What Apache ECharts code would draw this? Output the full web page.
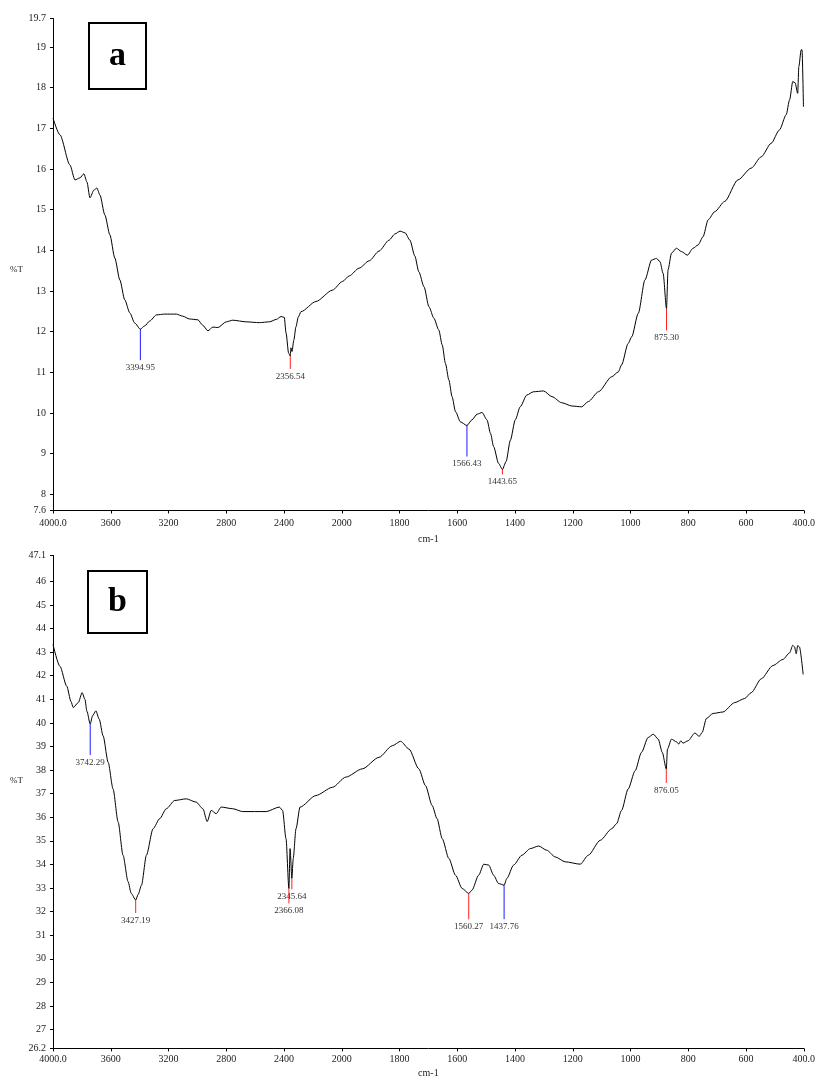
<!DOCTYPE html>
<html>
<head>
<meta charset="utf-8">
<script src="https://cdn.jsdelivr.net/npm/echarts@6/dist/echarts.min.js"></script>
<style>
  html, body { margin: 0; padding: 0; background: #fff; }
  #chart { width: 818px; height: 1081px; }
</style>
</head>
<body>
<div id="chart"></div>
<script>
// Wavenumber scale (cm-1): 400 cm-1 per division down to 2000, then 200 cm-1 per division
const xTicks = [4000, 3600, 3200, 2800, 2400, 2000, 1800, 1600, 1400, 1200, 1000, 800, 600, 400];
const xTickLabels = ['4000.0', '3600', '3200', '2800', '2400', '2000', '1800', '1600', '1400', '1200', '1000', '800', '600', '400.0'];

const yTicksA = [7.6, 8, 9, 10, 11, 12, 13, 14, 15, 16, 17, 18, 19, 19.7];
const yTicksB = [26.2, 27, 28, 29, 30, 31, 32, 33, 34, 35, 36, 37, 38, 39, 40, 41, 42, 43, 44, 45, 46, 47.1];

// Spectrum a: wavenumber (cm-1) and transmittance (%T)
const waveA = [4000, 3952, 3883, 3848, 3814, 3786, 3765, 3744, 3717, 3696, 3675, 3641, 3606, 3572, 3537, 3503, 3468, 3434,
  3394.95, 3365, 3330, 3284, 3227, 3146, 3102, 3054, 2996, 2964, 2927, 2893, 2858, 2800, 2755, 2662, 2570, 2501, 2453, 2421,
  2398, 2386, 2368, 2356.54, 2352, 2345, 2332, 2317, 2301, 2282, 2179, 2064, 1998, 1974, 1940, 1905, 1871, 1836, 1816, 1798,
  1781, 1764, 1747, 1733, 1715, 1698, 1681, 1664, 1652, 1641, 1629, 1618, 1606, 1589, 1566.43, 1549, 1531, 1514, 1497, 1485,
  1474, 1457, 1443.65, 1431, 1416, 1399, 1382, 1359, 1336, 1301, 1272, 1238, 1203, 1169, 1146, 1111, 1065, 1042, 1031, 1008,
  996, 973, 950, 927, 910, 898, 887, 875.30, 870, 858, 841, 824, 803, 783, 766, 749, 731, 708, 674, 628, 582, 547, 513, 484,
  461, 449, 438, 430, 421, 417, 409, 406, 401];
const transA = [17.25, 16.84, 16.10, 15.73, 15.78, 15.88, 15.68, 15.29, 15.48, 15.53, 15.36, 14.87, 14.38, 13.81, 13.27, 12.78, 12.46, 12.21,
  12.06, 12.14, 12.26, 12.41, 12.43, 12.43, 12.38, 12.31, 12.29, 12.16, 12.02, 12.11, 12.10, 12.24, 12.28, 12.24, 12.22, 12.24, 12.30, 12.37,
  12.35, 11.97, 11.47, 11.40, 11.60, 11.51, 11.79, 12.12, 12.36, 12.49, 12.74, 13.02, 13.23, 13.37, 13.56, 13.74, 13.98, 14.25, 14.40, 14.47,
  14.43, 14.25, 13.86, 13.47, 13.10, 12.61, 12.33, 12.04, 11.67, 11.22, 10.81, 10.40, 10.03, 9.78, 9.69, 9.83, 9.97, 10.01, 9.83, 9.50,
  9.17, 8.76, 8.61, 8.80, 9.33, 9.83, 10.15, 10.44, 10.52, 10.54, 10.40, 10.25, 10.17, 10.15, 10.28, 10.52, 10.89, 11.01, 11.18, 11.71,
  11.87, 12.45, 13.27, 13.76, 13.80, 13.72, 13.43, 12.57, 13.52, 13.93, 14.05, 13.97, 13.88, 14.05, 14.13, 14.33, 14.75, 14.95, 15.20, 15.73, 16.02, 16.30, 16.63, 16.96,
  17.33, 17.70, 18.15, 18.12, 17.86, 18.52, 18.93, 18.93, 17.53];

// Spectrum b: wavenumber (cm-1) and transmittance (%T)
const waveB = [4000, 3952, 3905, 3875, 3860, 3825, 3798, 3779, 3765, 3742.29, 3726, 3703, 3680, 3653, 3618, 3584, 3549, 3515,
  3480, 3458, 3427.19, 3410, 3387, 3353, 3307, 3261, 3215, 3157, 3077, 3008, 2962, 2932, 2904, 2870, 2835, 2755, 2686, 2524,
  2432, 2410, 2386, 2366.08, 2358, 2345.64, 2336, 2317, 2289, 2179, 2064, 1986, 1929, 1871, 1825, 1796, 1767, 1733, 1710,
  1687, 1670, 1652, 1629, 1606, 1583, 1560.27, 1549, 1526, 1508, 1491, 1474, 1457, 1437.76, 1428, 1405, 1376, 1347, 1318,
  1290, 1261, 1226, 1174, 1146, 1105, 1065, 1048, 1031, 1008, 984, 962, 939, 921, 904, 890, 876.05, 872, 858, 841, 833, 826,
  818, 801, 777, 762, 752, 737, 714, 680, 639, 605, 582, 547, 507, 472, 449, 438, 432, 426, 421, 415, 402];
const transB = [43.32, 42.40, 41.56, 40.90, 40.65, 40.86, 41.28, 41.00, 40.49, 39.95, 40.30, 40.51, 40.16, 39.45, 38.33, 37.20, 35.80, 34.39,
  33.27, 32.77, 32.49, 32.73, 33.12, 34.39, 35.51, 35.94, 36.36, 36.71, 36.78, 36.64, 36.36, 35.82, 36.29, 36.15, 36.43, 36.36, 36.24, 36.24,
  36.43, 36.29, 35.09, 32.98, 34.67, 33.41, 34.25, 35.51, 36.43, 36.92, 37.27, 37.70, 38.05, 38.54, 39.03, 39.22, 38.89, 38.05, 37.34,
  36.50, 35.94, 35.09, 34.25, 33.54, 32.98, 32.77, 32.91, 33.54, 34.01, 33.97, 33.54, 33.19, 33.12, 33.41, 33.97, 34.39, 34.67, 34.78,
  34.60, 34.32, 34.11, 34.01, 34.39, 35.02, 35.51, 35.73, 36.29, 37.20, 37.97, 38.75, 39.38, 39.52, 39.31, 38.75, 38.05, 38.89, 39.31, 39.20, 39.10, 39.24,
  39.14, 39.24, 39.57, 39.43, 39.59, 40.19, 40.40, 40.46, 40.86, 41.03, 41.28, 41.87, 42.43, 42.69, 42.97, 43.29, 43.22, 42.93, 43.28, 43.22, 42.05];

// Labelled absorption bands
const peakWaveA = [3394.95, 2356.54, 1566.43, 1443.65, 875.30];
const peakTextA = ['3394.95', '2356.54', '1566.43', '1443.65', '875.30'];
const peakWaveB = [3742.29, 3427.19, 2366.08, 2345.64, 1560.27, 1437.76, 876.05];
const peakTextB = ['3742.29', '3427.19', '2366.08', '2345.64', '1560.27', '1437.76', '876.05'];

// Drop-line colour and length (px) for each band label
const BLUE = '#1a1aff', RED = '#ff2020';
const peakStyleA = [{ c: BLUE, len: 31 }, { c: RED, len: 13 }, { c: BLUE, len: 31 }, { c: RED, len: 5 }, { c: RED, len: 22 }];
const peakStyleB = [{ c: BLUE, len: 31 }, { c: RED, len: 13 }, { c: RED, len: 15 }, { c: RED, len: 11 }, { c: RED, len: 26 }, { c: BLUE, len: 34 }, { c: RED, len: 14 }];
const LABEL_GAP = 3;

const FONT = '"Liberation Serif", "Times New Roman", serif';

// Map a wavenumber onto the division index of the split scale
function toU(w) {
  for (let i = 0; i < xTicks.length - 1; i++) {
    if (w >= xTicks[i + 1] || i === xTicks.length - 2) {
      return i + (xTicks[i] - w) / (xTicks[i] - xTicks[i + 1]);
    }
  }
  return 0;
}

const divisions = xTicks.map((_, i) => i);

function makeXAxis(gridIndex, labelMargin, nameGap) {
  return {
    type: 'value', gridIndex, min: 0, max: xTicks.length - 1,
    name: 'cm-1', nameLocation: 'middle', nameGap,
    nameTextStyle: { fontFamily: FONT, fontSize: 10, color: '#222' },
    axisLine: { show: true, onZero: false, lineStyle: { color: '#000', width: 1 } },
    axisTick: { show: true, length: 3, customValues: divisions, lineStyle: { color: '#000' } },
    axisLabel: {
      customValues: divisions, margin: labelMargin, fontFamily: FONT, fontSize: 10, color: '#222',
      formatter: v => xTickLabels[Math.round(v)]
    },
    splitLine: { show: false }
  };
}

function makeYAxis(gridIndex, ticks) {
  return {
    type: 'value', gridIndex, min: ticks[0], max: ticks[ticks.length - 1],
    axisLine: { show: true, onZero: false, lineStyle: { color: '#000', width: 1 } },
    axisTick: { show: true, length: 3, customValues: ticks, lineStyle: { color: '#000' } },
    axisLabel: {
      customValues: ticks, margin: 7, fontFamily: FONT, fontSize: 10, color: '#222',
      verticalAlign: 'middle', padding: [0, 0, 4, 0],
      formatter: v => String(v)
    },
    splitLine: { show: false }
  };
}

function spectrumSeries(idx, wave, trans) {
  return {
    type: 'line', xAxisIndex: idx, yAxisIndex: idx,
    data: wave.map((w, i) => [toU(w), trans[i]]),
    showSymbol: false, smooth: 0.25, smoothMonotone: 'x',
    lineStyle: { color: '#000', width: 1 }, z: 3, silent: true
  };
}

function peakSeries(idx, waves, texts, styles, wave, trans) {
  return {
    type: 'custom', xAxisIndex: idx, yAxisIndex: idx, z: 2, silent: true,
    data: waves.map(w => [toU(w), trans[wave.indexOf(w)]]),
    renderItem: (params, api) => {
      const p = api.coord([api.value(0), api.value(1)]);
      const st = styles[params.dataIndex];
      return {
        type: 'group',
        children: [
          { type: 'line', shape: { x1: p[0], y1: p[1], x2: p[0], y2: p[1] + st.len },
            style: { stroke: st.c, lineWidth: 1 } },
          { type: 'text', style: { text: texts[params.dataIndex], x: p[0], y: p[1] + st.len + LABEL_GAP,
            align: 'center', verticalAlign: 'top', font: '9px ' + FONT, fill: '#333' } }
        ]
      };
    }
  };
}

function panelBox(x, y, w, h, letter) {
  return {
    type: 'group', left: x, top: y,
    children: [
      { type: 'rect', shape: { x: 0, y: 0, width: w, height: h }, style: { fill: '#fff', stroke: '#000', lineWidth: 2 } },
      { type: 'text', style: { text: letter, x: w / 2, y: h / 2, align: 'center', verticalAlign: 'middle',
        font: 'bold 34px ' + FONT, fill: '#000' } }
    ]
  };
}

const chart = echarts.init(document.getElementById('chart'), null, { renderer: 'canvas' });
chart.setOption({
  animation: false,
  backgroundColor: '#fff',
  grid: [
    { left: 53, top: 18.5, width: 753, height: 492 },
    { left: 53, top: 555.4, width: 753, height: 493 }
  ],
  xAxis: [makeXAxis(0, 8, 24), makeXAxis(1, 6, 20)],
  yAxis: [makeYAxis(0, yTicksA), makeYAxis(1, yTicksB)],
  series: [
    peakSeries(0, peakWaveA, peakTextA, peakStyleA, waveA, transA),
    spectrumSeries(0, waveA, transA),
    peakSeries(1, peakWaveB, peakTextB, peakStyleB, waveB, transB),
    spectrumSeries(1, waveB, transB)
  ],
  graphic: [
    panelBox(88, 22, 57, 66, 'a'),
    panelBox(87, 570, 59, 62, 'b'),
    { type: 'text', left: 10, top: 265, style: { text: '%T', font: '9px ' + FONT, fill: '#222' } },
    { type: 'text', left: 10, top: 776, style: { text: '%T', font: '9px ' + FONT, fill: '#222' } }
  ]
});
</script>
</body>
</html>
